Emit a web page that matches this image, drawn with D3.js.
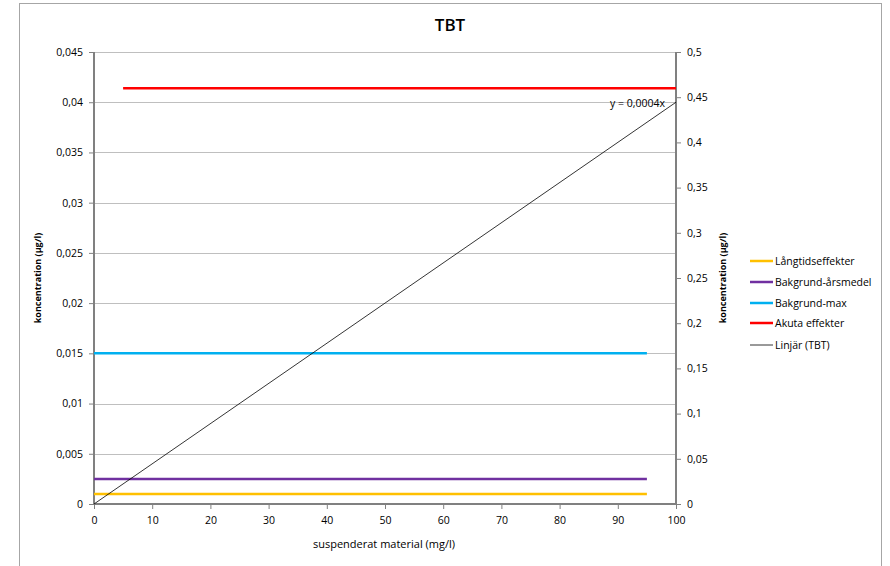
<!DOCTYPE html>
<html><head><meta charset="utf-8">
<script src="https://cdn.jsdelivr.net/npm/d3@7"></script>
<style>body{margin:0;background:#fff}svg{display:block}text{font-family:"Open Sans","Noto Sans",sans-serif}</style>
</head><body><svg id="c" width="890" height="566"></svg>
<script>
const title = "TBT";
const xTicks = [0,10,20,30,40,50,60,70,80,90,100];
const yLeftTicks = [0,0.005,0.01,0.015,0.02,0.025,0.03,0.035,0.04,0.045];
const yRightTicks = [0,0.05,0.1,0.15,0.2,0.25,0.3,0.35,0.4,0.45,0.5];
const seriesNames = ["Långtidseffekter","Bakgrund-årsmedel","Bakgrund-max","Akuta effekter","Linjär (TBT)"];
const seriesColors = ["#ffc000","#7030a0","#00b0f0","#ff0000","#000000"];
const seriesAxis = ["left","left","left","right","left"];
const langtidX = [0,95], langtidY = [0.001,0.001];
const bakgrundArsX = [0,95], bakgrundArsY = [0.0025,0.0025];
const bakgrundMaxX = [0,95], bakgrundMaxY = [0.015,0.015];
const akutaX = [5,100], akutaY = [0.46,0.46];
const trendSlope = 0.0004;
const trendX = [0,100];
const trendLabel = "y = 0,0004x";

const svg = d3.select("#c");
const L=94,R=676,T=52,B=504;
const x = d3.scaleLinear().domain([0,100]).range([L,R]);
const yL = d3.scaleLinear().domain([0,0.045]).range([B,T]);
const yR = d3.scaleLinear().domain([0,0.5]).range([B,T]);
const fmt = d => String(+d.toFixed(4)).replace(".",",");

svg.append("rect").attr("x",19.5).attr("y",3.5).attr("width",862).attr("height",600)
  .attr("fill","none").attr("stroke","#a6a6a6").attr("stroke-width",1);

svg.append("text").attr("x",450).attr("y",31).attr("text-anchor","middle")
  .attr("font-size",17).attr("font-weight",600).text(title);

// gridlines
svg.append("g").selectAll("line").data(yLeftTicks.filter(d=>d>0)).join("line")
  .attr("x1",L).attr("x2",R).attr("y1",d=>Math.round(yL(d))+0.5).attr("y2",d=>Math.round(yL(d))+0.5)
  .attr("stroke","#bfbfbf").attr("stroke-width",1);

// axes
const axL = svg.append("g").attr("transform",`translate(${L},0)`)
  .call(d3.axisLeft(yL).tickValues(yLeftTicks).tickFormat(fmt).tickSize(5).tickPadding(6));
const axR = svg.append("g").attr("transform",`translate(${R},0)`)
  .call(d3.axisRight(yR).tickValues(yRightTicks).tickFormat(fmt).tickSize(5).tickPadding(6));
const axB = svg.append("g").attr("transform",`translate(0,${B})`)
  .call(d3.axisBottom(x).tickValues(xTicks).tickFormat(d=>d).tickSize(5).tickPadding(8));
[axL,axR,axB].forEach(a=>{
  a.select(".domain").attr("stroke","#808080").attr("stroke-width",2);
  a.selectAll(".tick line").attr("stroke","#808080");
  a.selectAll("text").attr("font-size",10.5).attr("fill","#000").attr("font-family","'Open Sans',sans-serif");
});
axL.select(".domain").attr("d",`M0,${T}V${B}`);
axR.select(".domain").attr("d",`M0,${T}V${B}`);
axB.select(".domain").attr("d",`M${L},0H${R}`);

// axis titles
svg.append("text").attr("transform",`translate(41,278) rotate(-90)`).attr("text-anchor","middle")
  .attr("font-size",9).attr("font-weight",700).text("koncentration (µg/l)");
svg.append("text").attr("transform",`translate(726,278) rotate(-90)`).attr("text-anchor","middle")
  .attr("font-size",9).attr("font-weight",700).text("koncentration (µg/l)");
svg.append("text").attr("x",384).attr("y",548).attr("text-anchor","middle")
  .attr("font-size",11).text("suspenderat material (mg/l)");

// series
const line = (xs,ys,ys_scale)=> d3.line().x(d=>x(d[0])).y(d=>ys_scale(d[1]))(xs.map((v,i)=>[v,ys[i]]));
const data = [[langtidX,langtidY],[bakgrundArsX,bakgrundArsY],[bakgrundMaxX,bakgrundMaxY],[akutaX,akutaY]];
data.forEach((d,i)=>{
  svg.append("path").attr("d",line(d[0],d[1],seriesAxis[i]==="left"?yL:yR))
    .attr("fill","none").attr("stroke",seriesColors[i]).attr("stroke-width",2.5);
});
svg.append("path").attr("d",line(trendX,trendX.map(v=>v*trendSlope),yL))
  .attr("fill","none").attr("stroke","#000").attr("stroke-width",0.8);
svg.append("text").attr("x",665).attr("y",107).attr("text-anchor","end")
  .attr("font-size",10.5).text(trendLabel);

// legend
const ly = [261,282,303,323,345];
const lg = svg.append("g");
seriesNames.forEach((n,i)=>{
  lg.append("line").attr("x1",750).attr("x2",773).attr("y1",ly[i]).attr("y2",ly[i])
    .attr("stroke",seriesColors[i]).attr("stroke-width",i===4?0.8:2.5);
  lg.append("text").attr("x",775).attr("y",ly[i]+4).attr("font-size",10.5).text(n);
});
</script></body></html>
